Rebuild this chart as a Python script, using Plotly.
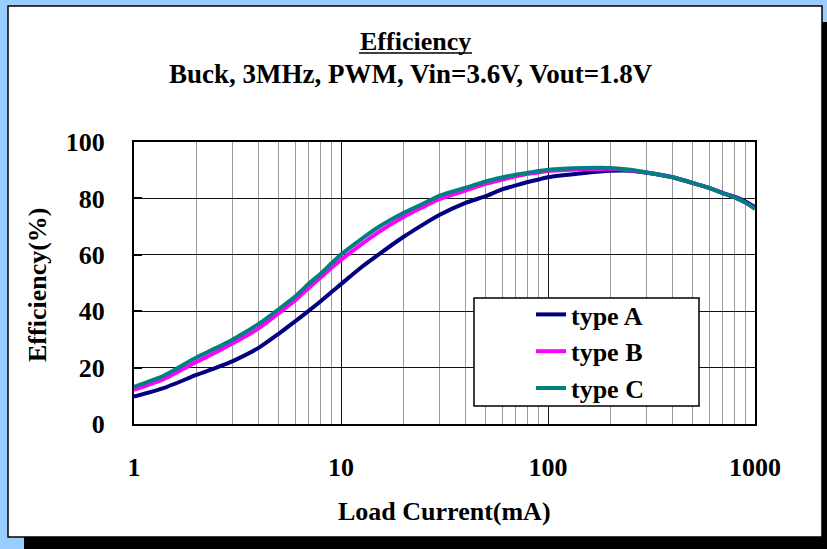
import plotly.graph_objects as go

# Load current (mA) and measured efficiency (%) for the three parts
current_ma = [1, 1.4, 2, 2.5, 3, 4, 5, 6, 7, 8, 9, 10, 12.5, 15, 20, 25, 30, 40, 50,
              60, 70, 80, 90, 100, 150, 200, 250, 300, 400, 500, 600, 700, 800, 900, 1000]
eff_type_a = [9.7, 12.8, 17.4, 20.0, 22.3, 27.0, 32.0, 36.4, 40.2, 43.6, 46.8, 49.6,
              55.5, 59.8, 66.3, 70.8, 74.2, 78.4, 80.8, 83.2, 84.6, 85.8, 86.7, 87.5,
              89.0, 89.8, 89.8, 89.1, 87.5, 85.4, 83.7, 81.9, 80.5, 78.9, 76.9]
eff_type_b = [12.1, 16.0, 22.0, 25.5, 28.6, 33.9, 39.3, 43.8, 48.3, 52.0, 55.4, 58.2,
              63.6, 67.8, 73.4, 77.0, 79.8, 82.8, 85.2, 86.6, 87.8, 88.7, 89.2, 89.7,
              90.3, 90.5, 90.0, 89.2, 87.5, 85.5, 83.7, 81.8, 80.3, 78.5, 76.4]
eff_type_c = [13.2, 17.2, 23.6, 27.0, 30.0, 35.5, 40.7, 45.2, 49.8, 53.4, 57.0, 60.1,
              65.5, 69.6, 74.8, 78.2, 81.0, 83.8, 86.0, 87.4, 88.4, 89.1, 89.7, 90.2,
              90.8, 90.8, 90.2, 89.2, 87.5, 85.5, 83.7, 81.8, 80.3, 78.5, 76.3]

series_names = ["type A", "type B", "type C"]
series_colors = ["#000080", "#FF00FF", "#008080"]
y_ticks = [0, 20, 40, 60, 80, 100]
x_ticks = [1, 10, 100, 1000]
x_tick_text = ["1", "10", "100", "1000"]

FONT = "Liberation Serif, Times New Roman, serif"

W, H = 827, 549
L, R, T, B = 134, 755, 142, 424   # plot area in pixels


def px_x(x):
    return (x - L) / (R - L)


def px_y(y):
    return (B - y) / (B - T)


fig = go.Figure()
for name, color, vals in zip(series_names, series_colors,
                             [eff_type_a, eff_type_b, eff_type_c]):
    fig.add_trace(go.Scatter(x=current_ma, y=vals, name=f"<b>{name}</b>", mode="lines",
                             line=dict(color=color, width=4, shape="spline",
                                       smoothing=0.6)))

shapes = [
    # drop shadow of the white card
    dict(type="rect", xref="paper", yref="paper", layer="below",
         x0=px_x(24), x1=px_x(840), y0=px_y(22), y1=px_y(560),
         fillcolor="black", line=dict(width=0)),
    # white card
    dict(type="rect", xref="paper", yref="paper", layer="below",
         x0=px_x(8), x1=px_x(822), y0=px_y(6), y1=px_y(537),
         fillcolor="white", line=dict(color="black", width=1.5)),
    # legend box
    dict(type="rect", xref="paper", yref="paper", layer="above",
         x0=px_x(474), x1=px_x(699), y0=px_y(298), y1=px_y(406),
         fillcolor="white", line=dict(color="black", width=1.5)),
    # underline for the title
    dict(type="line", xref="paper", yref="paper", layer="above",
         x0=px_x(359), x1=px_x(472), y0=px_y(53), y1=px_y(53),
         line=dict(color="black", width=1.5)),
]

annotations = [
    dict(text="<b>Efficiency</b>", x=px_x(415), y=px_y(41), xref="paper", yref="paper",
         showarrow=False, xanchor="center", yanchor="middle",
         font=dict(family=FONT, size=26, color="black")),
    dict(text="<b>Buck, 3MHz, PWM, Vin=3.6V, Vout=1.8V</b>", x=px_x(411), y=px_y(74),
         xref="paper", yref="paper", showarrow=False, xanchor="center", yanchor="middle",
         font=dict(family=FONT, size=27, color="black")),
    dict(text="<b>Load Current(mA)</b>", x=px_x(444), y=px_y(511), xref="paper",
         yref="paper", showarrow=False, xanchor="center", yanchor="middle",
         font=dict(family=FONT, size=26, color="black")),
    dict(text="<b>Efficiency(%)</b>", x=px_x(37), y=px_y(285), xref="paper",
         yref="paper", showarrow=False, xanchor="center", yanchor="middle",
         textangle=-90, font=dict(family=FONT, size=26, color="black")),
]

fig.update_layout(
    width=W, height=H,
    margin=dict(l=L, r=W - R, t=T, b=H - B, pad=0),
    paper_bgcolor="#99CCFF",
    plot_bgcolor="white",
    font=dict(family=FONT, size=26, color="black"),
    shapes=shapes,
    annotations=annotations,
    showlegend=True,
    legend=dict(x=px_x(531), y=px_y(291), xanchor="left", yanchor="top",
                bgcolor="rgba(0,0,0,0)", borderwidth=0,
                font=dict(family=FONT, size=26, color="black"),
                tracegroupgap=0, itemwidth=30),
)

fig.update_xaxes(
    type="log", range=[0, 3],
    tickvals=x_ticks, ticktext=[f"<b>{t}</b>" for t in x_tick_text],
    showgrid=True, gridcolor="#111111", gridwidth=1.3,
    minor=dict(dtick="D1", showgrid=True, gridcolor="#9A9A9A", gridwidth=1, ticks=""),
    showline=True, linecolor="black", linewidth=2, mirror=True,
    ticks="", ticklabelstandoff=19,
    tickfont=dict(family=FONT, size=26, color="black"),
    zeroline=False,
)
fig.update_yaxes(
    range=[0, 100],
    tickvals=y_ticks, ticktext=[f"<b>{t}</b>" for t in y_ticks],
    showgrid=True, gridcolor="#111111", gridwidth=1.3,
    showline=True, linecolor="black", linewidth=2, mirror=True,
    ticks="inside", ticklen=8, tickwidth=2, tickcolor="black",
    ticklabelstandoff=22,
    tickfont=dict(family=FONT, size=26, color="black"),
    zeroline=False,
)

fig.write_html("out.html")
